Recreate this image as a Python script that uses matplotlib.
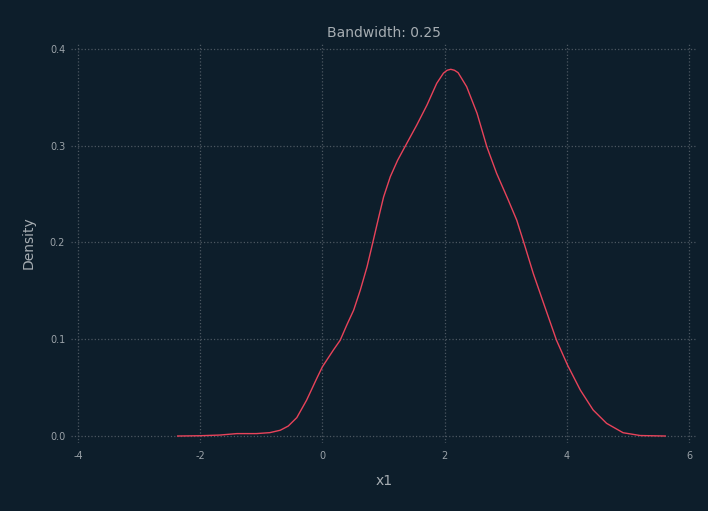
import matplotlib
matplotlib.use("Agg")
from matplotlib import pyplot as plt

# density curve of x1 (bandwidth 0.25)
x1_grid = [-2.37, -2.0, -1.68, -1.40, -1.08, -0.86, -0.69, -0.56, -0.42, -0.26,
           -0.09, 0.0, 0.18, 0.29, 0.40, 0.51, 0.62, 0.73, 0.82, 0.92,
           1.0, 1.11, 1.23, 1.35, 1.54, 1.71, 1.87, 1.98, 2.04, 2.10,
           2.16, 2.22, 2.36, 2.53, 2.69, 2.85, 3.04, 3.18, 3.30, 3.45,
           3.62, 3.83, 4.01, 4.22, 4.43, 4.65, 4.92, 5.20, 5.61]
densidad = [0.0, 0.0003, 0.001, 0.0025, 0.0025, 0.0035, 0.006, 0.0103, 0.019, 0.037,
            0.060, 0.0717, 0.089, 0.099, 0.115, 0.130, 0.151, 0.175, 0.199, 0.226,
            0.247, 0.268, 0.285, 0.299, 0.321, 0.342, 0.3645, 0.375, 0.378, 0.379,
            0.378, 0.3755, 0.361, 0.3335, 0.299, 0.2715, 0.244, 0.223, 0.199, 0.168,
            0.137, 0.099, 0.0734, 0.0475, 0.0269, 0.0131, 0.0034, 0.0005, 0.0]

xticks = [-4, -2, 0, 2, 4, 6]
yticks = [0.0, 0.1, 0.2, 0.3, 0.4]

fondo = "#0d1e2b"
gris = "#9aa2a8"

fig = plt.figure(figsize=(7.08, 5.11), dpi=100, facecolor=fondo)
ax = fig.add_axes([0.0999, 0.1331, 0.8846, 0.7828], facecolor=fondo)

ax.plot(x1_grid, densidad, color="#e8435a", linewidth=1.0)

ax.set_xlim(-4.12, 6.13)
ax.set_ylim(-0.0072, 0.4062)
ax.set_xticks(xticks)
ax.set_xticklabels([str(t) for t in xticks])
ax.set_yticks(yticks)
ax.set_yticklabels(["%.1f" % t for t in yticks])

ax.grid(True, color="#4c5761", linestyle=":", linewidth=0.9)
for s in ax.spines.values():
    s.set_visible(False)
ax.tick_params(length=0, labelsize=7, colors=gris)
ax.tick_params(axis="x", pad=6)
ax.tick_params(axis="y", pad=4)

ax.set_title("Bandwidth: 0.25", color="#a6adb2", fontsize=10, pad=4.5)
ax.set_xlabel("x1", color="#a6adb2", fontsize=10)
ax.set_ylabel("Density", color="#a6adb2", fontsize=10)
ax.xaxis.set_label_coords(0.5, -0.095)
ax.xaxis.label.set_va("center")
ax.yaxis.set_label_coords(-0.068, 0.5)
ax.yaxis.label.set_va("center")

plt.savefig("out.png", facecolor=fondo)
